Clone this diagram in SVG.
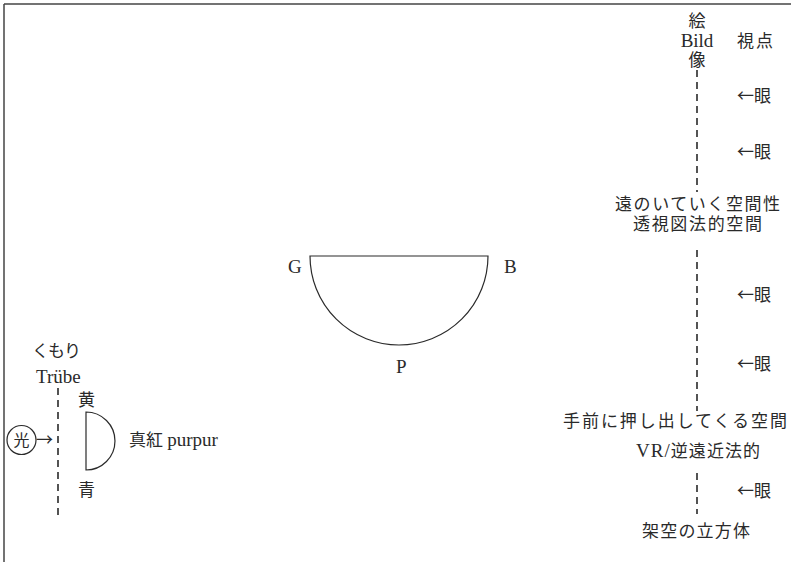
<svg xmlns="http://www.w3.org/2000/svg" width="791" height="562" viewBox="0 0 791 562">
<style>
  text { font-family: "Liberation Serif", "Noto Sans CJK JP", serif; font-size: 17px; fill: #2a2a2a; }
  .c { text-anchor: middle; }
  .lat { font-size: 19px; }
  .cjk { font-family: "Noto Sans CJK JP", sans-serif; }
  .shape { fill: none; stroke: #2a2a2a; stroke-width: 1.2; }
  .dash { fill: none; stroke: #2a2a2a; stroke-width: 1.6; stroke-dasharray: 7 5; }
  .frame { fill: none; stroke: #444; stroke-width: 1.5; }
</style>
<rect width="791" height="562" fill="#ffffff"/>
<g id="frame">
  <line class="frame" x1="4" y1="4" x2="791" y2="4"/>
  <line class="frame" x1="4" y1="4" x2="4" y2="562"/>
</g>
<g id="connectors">
  <line class="dash" x1="697" y1="70" x2="697" y2="192"/>
  <line class="dash" x1="697" y1="250" x2="697" y2="411"/>
  <line class="dash" x1="697" y1="473" x2="697" y2="514"/>
  <line class="dash" x1="58" y1="388" x2="58" y2="519"/>
</g>
<g id="picture-plane">
  <text class="c" x="697" y="27">絵</text>
  <text class="c lat" x="697" y="47">Bild</text>
  <text class="c" x="697" y="66">像</text>
</g>
<g id="viewpoint">
  <text x="737" y="47" textLength="36" lengthAdjust="spacing">視点</text>
</g>
<g id="eyes" class="cjk">
  <text class="cjk" x="737" y="102">←眼</text>
  <text class="cjk" x="737" y="158">←眼</text>
  <text class="cjk" x="737" y="301">←眼</text>
  <text class="cjk" x="737" y="370">←眼</text>
  <text class="cjk" x="737" y="497">←眼</text>
</g>
<g id="receding-space">
  <text x="615" y="210" textLength="165" lengthAdjust="spacing">遠のいていく空間性</text>
  <text x="633" y="230" textLength="129" lengthAdjust="spacing">透視図法的空間</text>
</g>
<g id="protruding-space">
  <text x="563" y="427" textLength="224" lengthAdjust="spacing">手前に押し出してくる空間</text>
  <text x="636" y="457" textLength="124" lengthAdjust="spacing"><tspan class="lat">VR/</tspan>逆遠近法的</text>
</g>
<g id="imaginary-cube">
  <text x="642" y="537" textLength="108" lengthAdjust="spacing">架空の立方体</text>
</g>
<g id="color-semicircle">
  <path class="shape" d="M310,256 H488 A89,89 0 0 1 310,256 Z"/>
  <text class="lat" x="288" y="273">G</text>
  <text class="lat" x="504" y="273">B</text>
  <text class="lat" x="396" y="373">P</text>
</g>
<g id="turbidity">
  <text x="32" y="357" textLength="49" lengthAdjust="spacing">くもり</text>
  <text class="lat" x="36" y="383">Trübe</text>
</g>
<g id="light">
  <circle class="shape" cx="21.5" cy="440" r="14.5"/>
  <text class="c cjk" x="21.5" y="446" style="font-size:16px">光</text>
  <text class="cjk" x="36" y="446">→</text>
</g>
<g id="small-semicircle">
  <path class="shape" d="M86,412 A29,29 0 0 1 86,470 Z"/>
  <text x="78" y="406">黄</text>
  <text x="78" y="496">青</text>
  <text x="129" y="446">真紅 <tspan class="lat">purpur</tspan></text>
</g>
</svg>
